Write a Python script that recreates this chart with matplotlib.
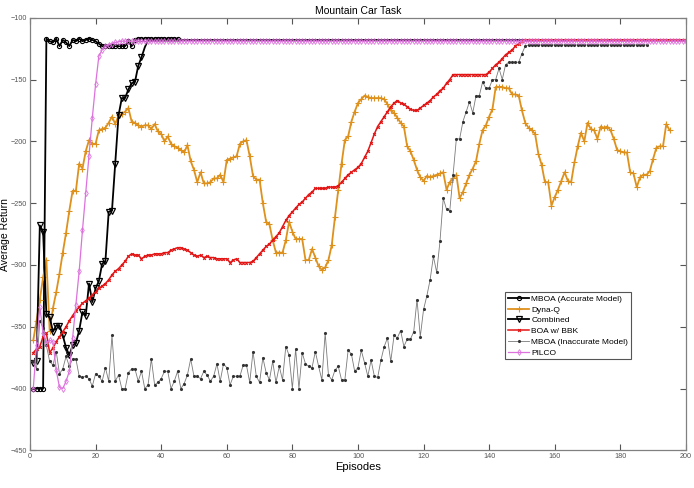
import matplotlib
matplotlib.use("Agg")
import matplotlib.pyplot as plt
import numpy as np

plt.rcParams["font.family"] = ["Liberation Sans", "DejaVu Sans"]

# values, one per episode starting at episode 1
mboa_accurate = [-400, -400, -400, -400, -117, -119, -120, -117, -123, -118,
                 -120, -123, -118, -119, -117, -119, -118, -117, -118, -119,
                 -121, -123, -123, -123, -123, -123, -123, -123, -123, -119,
                 -123, -118, -117, -117, -117, -117, -117, -117, -117, -117,
                 -117, -117, -117, -117, -117]

dyna_q = [-361, -345, -328, -310, -296, -353, -335, -322, -307, -290,
          -274, -256, -240, -240, -218, -222, -208, -199, -202, -202,
          -191, -190, -189, -185, -180, -186, -179, -178, -176, -173,
          -184, -185, -187, -188, -187, -187, -190, -186, -192, -194,
          -200, -196, -202, -204, -205, -207, -209, -203, -216, -223,
          -233, -225, -234, -234, -233, -230, -230, -227, -233, -215,
          -214, -213, -212, -202, -200, -199, -212, -228, -231, -231,
          -250, -265, -267, -280, -290, -290, -290, -280, -265, -273,
          -279, -279, -279, -296, -296, -287, -294, -301, -304, -302,
          -296, -284, -261, -239, -218, -199, -196, -184, -176, -169,
          -166, -163, -164, -165, -165, -165, -165, -166, -170, -175,
          -177, -181, -185, -188, -204, -208, -215, -223, -229, -232,
          -228, -229, -228, -227, -226, -225, -239, -233, -230, -227,
          -246, -241, -234, -227, -222, -216, -202, -191, -187, -180,
          -174, -156, -156, -156, -157, -157, -162, -162, -163, -175,
          -185, -189, -191, -194, -210, -219, -233, -233, -252, -245,
          -239, -232, -225, -232, -233, -217, -204, -193, -200, -185,
          -190, -191, -198, -188, -189, -188, -191, -198, -207, -208,
          -209, -209, -225, -226, -237, -229, -227, -227, -224, -214,
          -205, -204, -204, -186, -191]

combined = [-379, -378, -268, -273, -340, -342, -354, -349, -349, -357,
            -367, -373, -365, -363, -353, -338, -341, -315, -330, -319,
            -313, -299, -297, -257, -256, -218, -179, -165, -165, -158,
            -153, -152, -139, -132, -124] + [-118] * 165

boa_bbk = [-371, -368, -366, -358, -355, -371, -367, -362, -358, -354,
           -350, -345, -341, -337, -334, -331, -329, -327, -324, -322,
           -319, -317, -315, -312, -308, -305, -303, -300, -297, -293,
           -291, -292, -292, -295, -293, -292, -292, -291, -291, -291,
           -290, -290, -288, -287, -286, -286, -287, -288, -290, -292,
           -293, -292, -294, -293, -294, -294, -295, -295, -295, -295,
           -298, -296, -295, -298, -298, -298, -298, -297, -294, -291,
           -288, -285, -283, -280, -277, -274, -269, -264, -260, -257,
           -254, -251, -249, -246, -243, -241, -238, -238, -238, -238,
           -237, -237, -237, -236, -233, -230, -227, -225, -223, -221,
           -218, -213, -208, -201, -194, -188, -184, -180, -176, -172,
           -169, -167, -169, -170, -172, -174, -175, -175, -173, -171,
           -169, -167, -164, -162, -159, -157, -153, -150, -146, -146,
           -146, -146, -146, -146, -146, -146, -146, -146, -146, -144,
           -141, -138, -136, -133, -130, -128, -126, -123, -121, -119] + [-118] * 50

mboa_inaccurate = [-378, -384, -345, -351, -365, -378, -381, -370, -388, -384,
                   -374, -382, -376, -376, -390, -391, -390, -392, -398, -388,
                   -390, -394, -383, -394, -357, -394, -389, -400, -400, -387,
                   -384, -384, -394, -386, -400, -397, -376, -397, -395, -392,
                   -386, -386, -400, -394, -386, -400, -396, -389, -376, -390,
                   -390, -392, -386, -389, -394, -390, -380, -394, -380, -383,
                   -397, -390, -390, -390, -381, -381, -395, -370, -390, -395,
                   -375, -387, -393, -378, -395, -382, -393, -366, -373, -400,
                   -368, -400, -371, -380, -382, -383, -370, -382, -393, -355,
                   -389, -393, -385, -382, -393, -393, -369, -372, -386, -383,
                   -369, -379, -390, -377, -390, -391, -377, -366, -359, -378,
                   -357, -359, -353, -366, -360, -360, -354, -328, -358, -336,
                   -325, -312, -293, -306, -281, -246, -255, -256, -227, -198,
                   -198, -184, -176, -168, -177, -163, -163, -152, -157, -157,
                   -150, -150, -141, -150, -138, -136, -136, -136, -136, -129,
                   -123] + [-122] * 37

pilco = [-400, -365, -334, -355, -363, -361, -362, -385, -399, -400,
         -394, -386, -359, -332, -305, -272, -242, -212, -181, -154,
         -131, -126, -123, -122, -121, -120, -119.5] + [-119] * 173

series = [
    ("MBOA (Accurate Model)", mboa_accurate,
     dict(color="black", lw=1.3, marker="o", ms=3, mfc="none", mew=0.8)),
    ("Dyna-Q", dyna_q,
     dict(color="#DE911C", lw=1.3, marker="+", ms=4, mew=0.8)),
    ("Combined", combined,
     dict(color="black", lw=1.3, marker="v", ms=4, mfc="none", mew=0.9,
          markevery=list(range(34)))),
    ("BOA w/ BBK", boa_bbk,
     dict(color="#E31414", lw=1.1, marker="x", ms=2, mew=0.8)),
    ("MBOA (Inaccurate Model)", mboa_inaccurate,
     dict(color="#7A7A7A", lw=0.6, marker=".", ms=2.5, mfc="#333333", mec="#333333")),
    ("PILCO", pilco,
     dict(color="#DD72DD", lw=0.9, marker="d", ms=3, mfc="none", mew=0.6)),
]

fig = plt.figure(figsize=(6.94, 4.88), dpi=100)
ax = fig.add_axes([0.0432, 0.077, 0.9452, 0.8867])

for name, vals, style in series:
    ep = np.arange(1, len(vals) + 1)
    ax.plot(ep, vals, label=name, **style)

ax.set_xlim(0, 200)
ax.set_ylim(-450, -100)
ax.set_xticks(np.arange(0, 201, 20))
ax.set_yticks(np.arange(-450, -99, 50))
ax.tick_params(direction="in", top=True, right=True, labelsize=5.2,
               colors="#555555", length=4, width=0.8, pad=2)
for s in ax.spines.values():
    s.set_color("#808080")
    s.set_linewidth(0.9)

ax.set_title("Mountain Car Task", fontsize=7.5, pad=3)
ax.set_xlabel("Episodes", fontsize=8, labelpad=1)
ax.set_ylabel("Average Return", fontsize=7.5)
ax.yaxis.set_label_coords(-0.031, 0.5)

leg = ax.legend(loc="upper left", bbox_to_anchor=(0.724, 0.366), fontsize=6,
                fancybox=False, framealpha=1, edgecolor="#555555",
                handlelength=2.6, handletextpad=0.2, borderpad=0.35,
                labelspacing=0.35, borderaxespad=0)
leg.get_frame().set_linewidth(0.8)

fig.savefig("out.png", dpi=100)
